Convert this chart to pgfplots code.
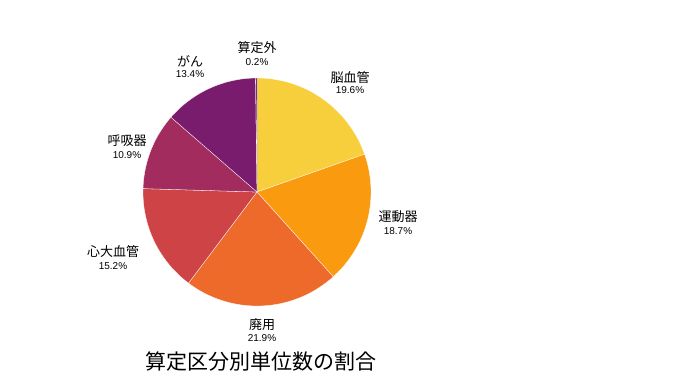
\documentclass[border=0pt]{standalone}
\usepackage{pgfplots}
\pgfplotsset{compat=1.18}
\usepackage{fontspec}
\setmainfont{Liberation Sans}
\newfontfamily\jp{Noto Sans CJK JP}
\definecolor{cA}{RGB}{247,207,61}
\definecolor{cB}{RGB}{250,154,14}
\definecolor{cC}{RGB}{237,106,42}
\definecolor{cD}{RGB}{206,68,70}
\definecolor{cE}{RGB}{162,44,94}
\definecolor{cF}{RGB}{122,28,109}
\definecolor{cG}{RGB}{90,20,115}
\tikzset{jl/.style={inner sep=0, font=\jp\fontsize{13bp}{15bp}\selectfont},
         nl/.style={inner sep=0, font=\fontsize{10bp}{12bp}\selectfont}}
\begin{document}
\begin{tikzpicture}
\begin{axis}[
  hide axis, scale only axis, clip=false,
  x=1bp, y=1bp, xmin=0, xmax=700, ymin=0, ymax=384,
]
\xdef\cum{0}
\foreach \v/\c in {19.6/cA, 18.7/cB, 21.9/cC, 15.2/cD, 10.9/cE, 13.4/cF, 0.2/cG}{
  \pgfmathsetmacro\s{90-\cum/99.9*360}
  \pgfmathsetmacro\e{90-(\cum+\v)/99.9*360}
  \edef\tmp{\noexpand\addplot[fill=\c, draw=white, line width=0.3pt, domain=\e:\s, samples=80, variable=\noexpand\t, mark=none]
    ({257+114*cos(\noexpand\t)},{192+114*sin(\noexpand\t)}) -- (axis cs:257,192) -- cycle;}
  \tmp
  \pgfmathsetmacro\nc{\cum+\v}
  \xdef\cum{\nc}
}
\node[jl] at (axis cs:350,306) {脳血管};   \node[nl] at (axis cs:350,294) {19.6\%};
\node[jl] at (axis cs:398,167) {運動器};   \node[nl] at (axis cs:398,153) {18.7\%};
\node[jl] at (axis cs:262,59)  {廃用};     \node[nl] at (axis cs:262,46)  {21.9\%};
\node[jl] at (axis cs:113,132) {心大血管}; \node[nl] at (axis cs:113,118) {15.2\%};
\node[jl] at (axis cs:127,243) {呼吸器};   \node[nl] at (axis cs:127,229) {10.9\%};
\node[jl] at (axis cs:190,323) {がん};     \node[nl] at (axis cs:190,310) {13.4\%};
\node[jl] at (axis cs:257,336) {算定外};   \node[nl] at (axis cs:257,322) {0.2\%};
\node[inner sep=0, font=\jp\fontsize{21bp}{25bp}\selectfont] at (axis cs:261,22) {算定区分別単位数の割合};
\end{axis}
\path (current axis.south west) rectangle (current axis.north east);
\end{tikzpicture}
\end{document}
